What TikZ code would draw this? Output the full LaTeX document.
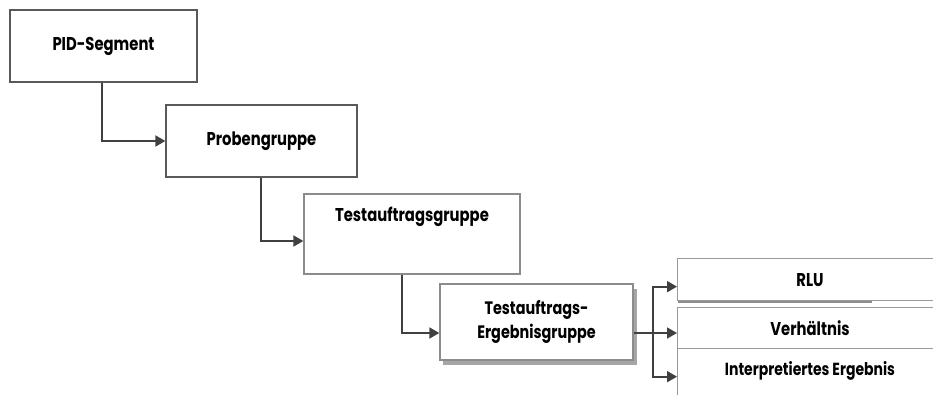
\documentclass[tikz,border=0pt]{standalone}
\usepackage{fontspec}
\setmainfont{Poppins}[BoldFont=* Bold, FakeStretch=0.8]
\usetikzlibrary{arrows.meta,positioning}
\begin{document}
\begin{tikzpicture}[x=1pt,y=-1pt,
  box/.style={draw=#1,line width=1.3pt,fill=white,inner sep=0pt,font=\bfseries\fontsize{18.5}{21}\selectfont},
  box/.default={black!65},
  lbl/.style={font=\bfseries\fontsize{18.5}{21}\selectfont},
  conn/.style={draw=black!75,line width=1.8pt},
  arr/.style={conn,-{Triangle[length=10pt,width=11pt]}}]
\useasboundingbox (0,0) rectangle (933,395);
\clip (0,0) rectangle (933,395);

% hierarchy boxes
\node[box,minimum width=187pt,minimum height=72pt] (pid) at (103.5,46) {PID-Segment};
\node[box,minimum width=191pt,minimum height=72pt] (prob) at (261.5,141) {Probengruppe};
\node[box=black!45,minimum width=216pt,minimum height=80pt] (test) at (412,234) {};
\node[lbl] (testlbl) at (412,217) {Testauftragsgruppe};

% result group with drop shadow
\fill[black!35] (443,289) rectangle (637,365);
\node[box=black!45,minimum width=193pt,minimum height=76pt,align=center,
      font=\bfseries\fontsize{18}{24}\selectfont] (erg) at (536.5,322) {Testauftrags-\\Ergebnisgruppe};

% result fields
\node[box=black!40,minimum width=280pt,minimum height=42pt,anchor=north west] (rlu) at (677,258) {};
\draw[black!45,line width=2pt] (678,301.5) -- (872,301.5);
\node[box=black!40,minimum width=280pt,minimum height=41pt,anchor=north west] (verh) at (677,307) {};
\node[box=black!40,minimum width=280pt,minimum height=70pt,anchor=north west] (interp) at (677,348) {};
\node[lbl] (rlulbl) at (810,280) {RLU};
\node[lbl] (verhlbl) at (810,328) {Verhältnis};
\node[font=\bfseries\fontsize{17.5}{20}\selectfont] (interplbl) at (810,371) {Interpretiertes Ergebnis};

% connectors
\coordinate (bus) at (653,333);
\draw[arr] ([xshift=93pt]pid.south west) |- (prob.west);
\draw[arr] ([xshift=96pt]prob.south west) |- ([yshift=-7pt]test.west);
\draw[arr] ([xshift=99pt]test.south west) |- (bus -| erg.west);
\draw[conn] (bus -| erg.east) -- (bus);
\draw[arr] (bus) |- ([yshift=-7pt]rlu.west);
\draw[arr] (bus) -- (bus -| verh.west);
\draw[arr] (bus) |- ([yshift=7pt]interp.west);
\end{tikzpicture}
\end{document}
